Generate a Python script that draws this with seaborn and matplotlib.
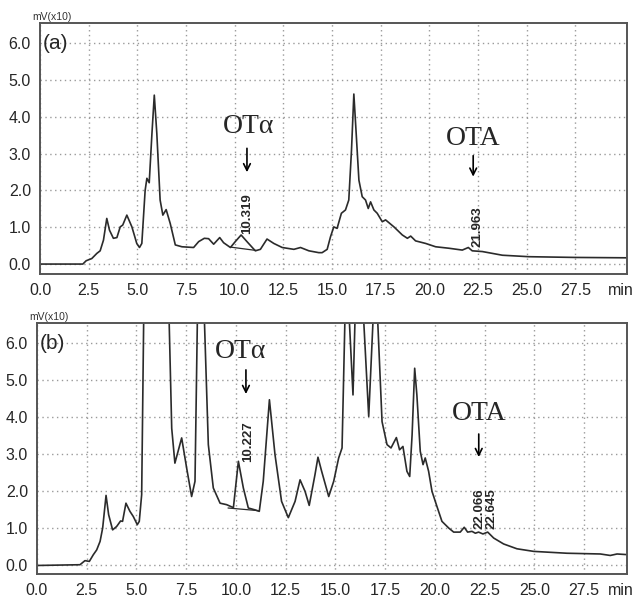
import matplotlib
matplotlib.use("Agg")
import matplotlib.pyplot as plt
import seaborn as sns
import numpy as np
import pandas as pd
from matplotlib.ticker import MultipleLocator

# ---------------- data ----------------
rt_a = [0.0, 2.2, 2.37, 2.66, 2.92, 3.09, 3.26, 3.43, 3.57, 3.77, 3.95, 4.12, 4.25, 4.46, 4.72,
        4.97, 5.11, 5.23, 5.40, 5.49, 5.61, 5.75, 5.87, 6.0, 6.17, 6.31, 6.48, 6.69, 6.95, 7.29,
        7.89, 8.15, 8.44, 8.66, 8.92, 9.23, 9.43, 9.78, 10.03, 10.33, 10.63, 11.06, 11.32, 11.66,
        12.01, 12.44, 13.04, 13.38, 13.81, 14.32, 14.49, 14.75, 14.92, 15.09, 15.26, 15.48, 15.69,
        15.86, 16.0, 16.12, 16.24, 16.38, 16.55, 16.72, 16.86, 16.98, 17.15, 17.32, 17.58, 17.75,
        18.18, 18.61, 18.87, 19.04, 19.29, 19.81, 20.32, 21.0, 21.69, 22.0, 22.2, 22.72, 23.75,
        25.12, 27.5, 30.15]
mv_a = [0.0, 0.0, 0.09, 0.15, 0.29, 0.36, 0.65, 1.24, 0.92, 0.70, 0.72, 1.01, 1.06, 1.33, 1.01,
        0.56, 0.45, 0.56, 2.0, 2.33, 2.21, 3.55, 4.59, 3.55, 1.74, 1.33, 1.48, 1.10, 0.52, 0.47,
        0.45, 0.61, 0.70, 0.69, 0.54, 0.72, 0.58, 0.45, 0.61, 0.79, 0.61, 0.36, 0.40, 0.68,
        0.56, 0.45, 0.40, 0.45, 0.36, 0.31, 0.31, 0.40, 0.74, 1.01, 0.97, 1.38, 1.47,
        1.74, 3.10, 4.62, 3.55, 2.28, 1.83, 1.74, 1.51, 1.69, 1.47, 1.38, 1.15, 1.20,
        1.01, 0.79, 0.70, 0.76, 0.63, 0.56, 0.47, 0.43, 0.38, 0.45, 0.36, 0.34, 0.24,
        0.20, 0.18, 0.17]
base_a_rt = [9.8, 11.1]
base_a_mv = [0.46, 0.37]

rt_b = [0.0, 2.16, 2.41, 2.63, 2.83, 3.0, 3.17, 3.30, 3.47, 3.60, 3.80, 4.0, 4.20, 4.30, 4.47,
        4.67, 4.84, 5.04, 5.14, 5.26, 5.38, 5.9, 6.60, 6.77, 6.93, 7.27, 7.52, 7.77, 7.94, 8.07,
        8.23, 8.39, 8.61, 8.86, 9.20, 9.53, 9.87, 10.12, 10.37, 10.62, 10.95, 11.17, 11.37, 11.68,
        11.96, 12.29, 12.63, 12.97, 13.22, 13.47, 13.68, 13.97, 14.12, 14.3, 14.66, 14.91, 15.16,
        15.33, 15.49, 15.58, 15.66, 15.88, 16.0, 16.2, 16.38, 16.67, 16.92, 17.0, 17.09, 17.34,
        17.59, 17.79, 18.06, 18.22, 18.39, 18.59, 18.73, 18.85, 18.98, 19.09, 19.26, 19.40, 19.51,
        19.68, 19.85, 20.1, 20.35, 20.69, 20.94, 21.27, 21.47, 21.64, 21.86, 22.03, 22.19, 22.41,
        22.65, 22.95, 23.45, 24.12, 24.96, 26.63, 28.31, 28.81, 29.15, 29.73]
mv_b = [0.0, 0.02, 0.13, 0.11, 0.29, 0.42, 0.65, 1.01, 1.89, 1.37, 0.96, 1.05, 1.20, 1.19, 1.68,
        1.46, 1.32, 1.10, 1.19, 1.91, 7.5, 12.0, 7.5, 3.70, 2.76, 3.44, 2.63, 1.86, 2.27, 7.0,
        9.0, 7.0, 3.26, 2.09, 1.68, 1.64, 1.56, 2.81, 2.09, 1.55, 1.50, 1.46, 2.27, 4.47,
        2.99, 1.73, 1.29, 1.73, 2.31, 2.00, 1.62, 2.45, 2.92, 2.55, 1.86, 2.27, 2.90,
        3.17, 7.0, 8.5, 7.0, 4.60, 7.0, 9.5, 7.0, 4.02, 7.0, 8.0, 7.0, 3.88,
        3.26, 3.17, 3.45, 3.12, 3.21, 2.54, 2.40, 3.52, 5.32, 4.60, 3.08, 2.72, 2.90,
        2.54, 2.00, 1.59, 1.19, 1.01, 0.90, 0.90, 1.03, 0.90, 0.92, 0.87, 0.90, 0.85,
        0.90, 0.74, 0.58, 0.45, 0.38, 0.33, 0.31, 0.27, 0.31, 0.29]
base_b_rt = [9.6, 11.1]
base_b_mv = [1.55, 1.48]

x_ticks = [0.0, 2.5, 5.0, 7.5, 10.0, 12.5, 15.0, 17.5, 20.0, 22.5, 25.0, 27.5]
y_ticks = [0.0, 1.0, 2.0, 3.0, 4.0, 5.0, 6.0]
panel_labels = ["(a)", "(b)"]
peak_labels_a = ["10.319", "21.963"]
peak_labels_b = ["10.227", "22.066", "22.645"]

# ---------------- style ----------------
sns.set_style("white")
plt.rcParams["font.family"] = ["Liberation Sans", "DejaVu Sans"]

fig = plt.figure(figsize=(6.35, 5.98), dpi=100)
W, H = 635, 598
ax_a = fig.add_axes([40 / W, (H - 274) / H, 587 / W, 251 / H])
ax_b = fig.add_axes([37 / W, (H - 574) / H, 590 / W, 251 / H])

line_col = "#2b2b2b"
serif = ["Liberation Serif", "DejaVu Serif"]
num_fs = 9.5

def style_axis(ax, xmax, ymin, ymax, label):
    ax.set_xlim(0, xmax)
    ax.set_ylim(ymin, ymax)
    ax.set_xticks(x_ticks)
    ax.set_xticklabels([f"{t:.1f}" for t in x_ticks])
    ax.set_yticks(y_ticks)
    ax.set_yticklabels([f"{t:.1f}" for t in y_ticks])
    ax.xaxis.set_minor_locator(MultipleLocator(0.5))
    ax.yaxis.set_minor_locator(MultipleLocator(0.2))
    ax.tick_params(axis="both", which="major", direction="out", length=5, width=1.2,
                   labelsize=11.5, color="#444444", pad=1.5)
    ax.tick_params(axis="both", which="minor", direction="out", length=2.5, width=1.0,
                   color="#444444")
    ax.grid(True, which="major", linestyle=(0, (1, 2.5)), color="#9a9a9a", linewidth=1.0)
    for s in ax.spines.values():
        s.set_color("#555555")
        s.set_linewidth(1.4)
        s.set_visible(True)
    ax.set_xlabel("")
    ax.set_ylabel("")
    ax.text(0.005, 0.92, label, transform=ax.transAxes, fontsize=15, ha="left", va="center")
    ax.text(-0.013, 1.004, "mV(x10)", transform=ax.transAxes, fontsize=7.5, ha="left",
            va="bottom", color="#333333")
    ax.annotate("min", xy=(0.99, 0), xycoords="axes fraction", xytext=(0, -12),
                textcoords="offset points", ha="center", va="center", fontsize=11.5)

# ---------------- panel (a) ----------------
df_a = pd.DataFrame({"rt": rt_a, "mv": mv_a})
sns.lineplot(data=df_a, x="rt", y="mv", ax=ax_a, color=line_col, linewidth=1.2,
             estimator=None, sort=False)
ax_a.plot(base_a_rt, base_a_mv, color=line_col, linewidth=0.9)
style_axis(ax_a, 30.15, -0.27, 6.55, panel_labels[0])

ax_a.text(10.72, 3.73, "OTα", family=serif, fontsize=20, ha="center", va="center")
ax_a.annotate("", xy=(10.63, 2.42), xytext=(10.63, 3.22),
              arrowprops=dict(arrowstyle="->", color="black", lw=1.2, mutation_scale=12))
ax_a.text(10.63, 0.83, peak_labels_a[0], rotation=90, fontsize=num_fs, fontweight="bold",
          ha="center", va="bottom")
ax_a.text(22.25, 3.41, "OTA", family=serif, fontsize=20, ha="center", va="center")
ax_a.annotate("", xy=(22.25, 2.3), xytext=(22.25, 3.02),
              arrowprops=dict(arrowstyle="->", color="black", lw=1.2, mutation_scale=12))
ax_a.text(22.45, 0.47, peak_labels_a[1], rotation=90, fontsize=num_fs, fontweight="bold",
          ha="center", va="bottom")

# ---------------- panel (b) ----------------
df_b = pd.DataFrame({"rt": rt_b, "mv": mv_b})
sns.lineplot(data=df_b, x="rt", y="mv", ax=ax_b, color=line_col, linewidth=1.2,
             estimator=None, sort=False)
ax_b.plot(base_b_rt, base_b_mv, color=line_col, linewidth=0.9)
style_axis(ax_b, 29.65, -0.23, 6.54, panel_labels[1])

ax_b.text(10.25, 5.77, "OTα", family=serif, fontsize=20, ha="center", va="center")
ax_b.annotate("", xy=(10.5, 4.55), xytext=(10.5, 5.35),
              arrowprops=dict(arrowstyle="->", color="black", lw=1.2, mutation_scale=12))
ax_b.text(10.62, 2.8, peak_labels_b[0], rotation=90, fontsize=num_fs, fontweight="bold",
          ha="center", va="bottom")
ax_b.text(22.2, 4.1, "OTA", family=serif, fontsize=20, ha="center", va="center")
ax_b.annotate("", xy=(22.2, 2.85), xytext=(22.2, 3.62),
              arrowprops=dict(arrowstyle="->", color="black", lw=1.2, mutation_scale=12))
ax_b.text(22.25, 0.98, peak_labels_b[1], rotation=90, fontsize=num_fs, fontweight="bold",
          ha="center", va="bottom")
ax_b.text(22.82, 0.98, peak_labels_b[2], rotation=90, fontsize=num_fs, fontweight="bold",
          ha="center", va="bottom")

fig.savefig("out.png", dpi=100)
